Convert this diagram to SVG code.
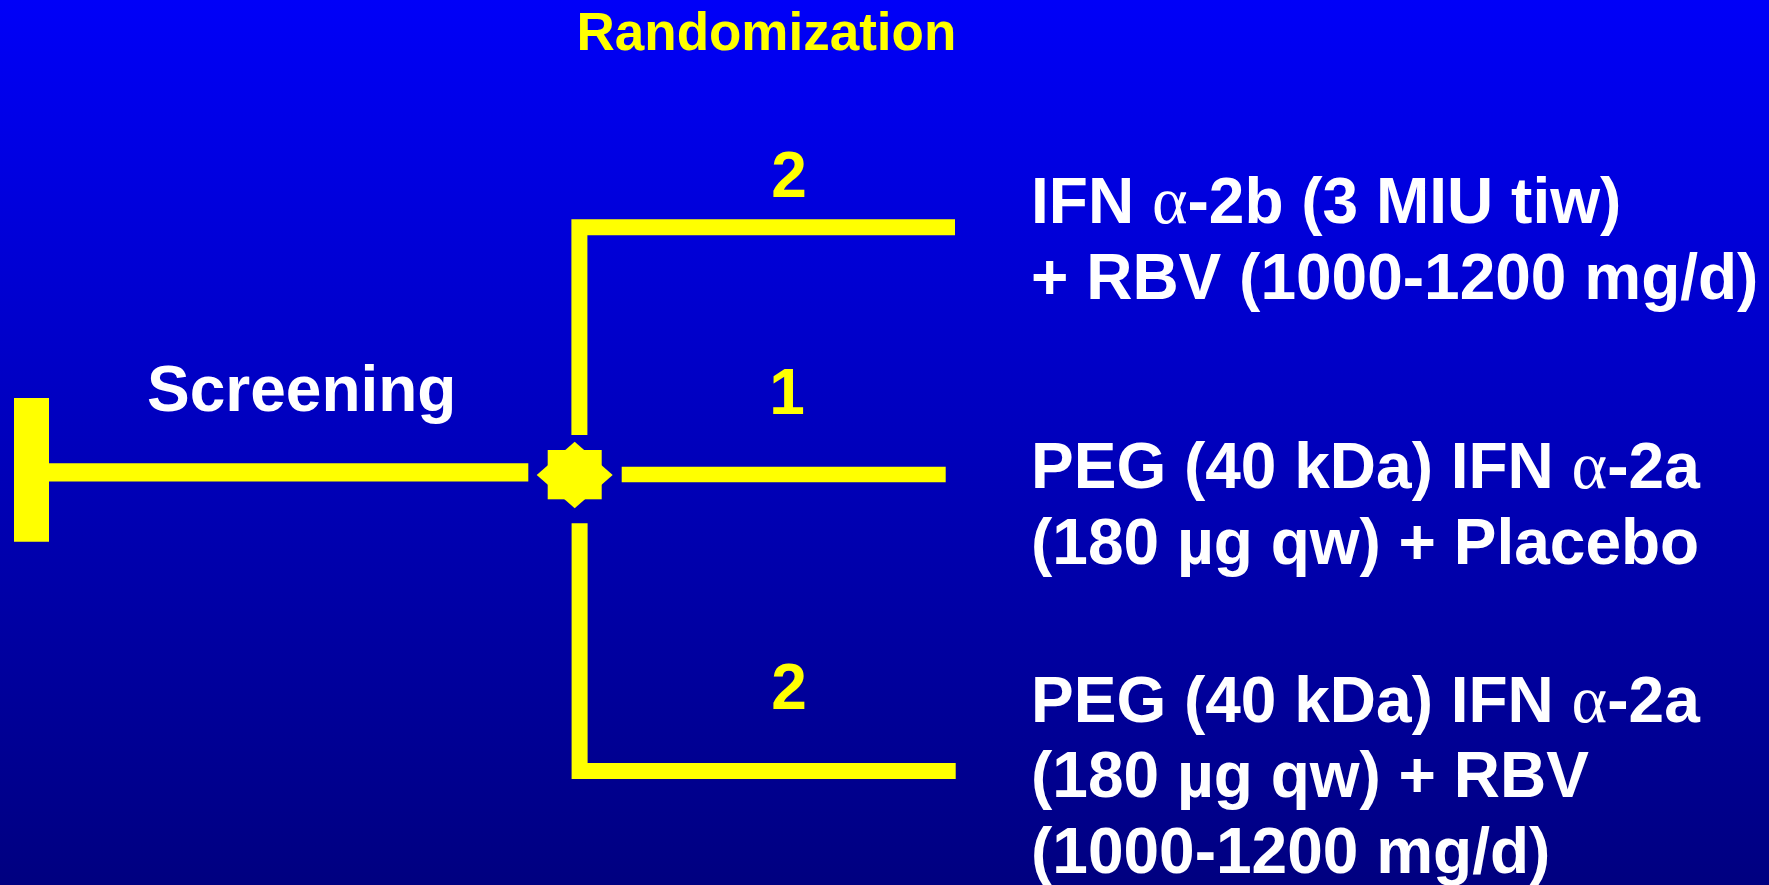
<svg xmlns="http://www.w3.org/2000/svg" width="1769" height="885" viewBox="0 0 1769 885">
  <defs>
    <linearGradient id="bg" x1="0" y1="0" x2="0" y2="1">
      <stop offset="0" stop-color="#0000F8"/>
      <stop offset="1" stop-color="#000080"/>
    </linearGradient>
  </defs>
  <style>
    .w { fill: #FFFFFF; font-family: "Liberation Sans", Arial, sans-serif; font-weight: bold; font-size: 64px; }
    .y { fill: #FFFF00; font-family: "Liberation Sans", Arial, sans-serif; font-weight: bold; }
    .greek { font-family: "Liberation Serif", "Times New Roman", serif; font-weight: normal; font-size: 68px; }
    .conn { fill: none; stroke: #FFFF00; stroke-linecap: butt; stroke-linejoin: miter; }
    .shape { fill: #FFFF00; }
  </style>
  <rect x="0" y="0" width="1769" height="885" fill="url(#bg)"/>

  <g id="connectors">
    <path class="conn" d="M31.5,398 V541.7" stroke-width="35"/>
    <path class="conn" d="M49,472.4 H528.3" stroke-width="18.4"/>
    <path class="conn" d="M579.4,435 V227.2 H955" stroke-width="16"/>
    <path class="conn" d="M621.7,474.5 H945.7" stroke-width="15.6"/>
    <path class="conn" d="M579.6,523.3 V771 H955.7" stroke-width="16"/>
  </g>

  <g id="title-randomization">
    <text class="y" x="576.5" y="50" font-size="53">Randomization</text>
  </g>

  <g id="label-screening">
    <text class="w" x="147" y="411">Screening</text>
  </g>

  <g id="randomization-node">
    <rect class="shape" x="547.7" y="450" width="54" height="49.3"/>
    <polygon class="shape" points="574.7,441.7 612.7,475 574.7,508.3 536.7,475"/>
  </g>

  <g id="ratio-top">
    <text class="y" x="789" y="197" font-size="64" text-anchor="middle">2</text>
  </g>
  <g id="ratio-middle">
    <text class="y" x="787" y="414" font-size="64" text-anchor="middle">1</text>
  </g>
  <g id="ratio-bottom">
    <text class="y" x="789" y="708.5" font-size="64" text-anchor="middle">2</text>
  </g>

  <g id="arm-1">
    <text class="w" x="1031" y="223">IFN <tspan class="greek">α</tspan>-2b (3 MIU tiw)</text>
    <text class="w" x="1031" y="299">+ RBV (1000-1200 mg/d)</text>
  </g>

  <g id="arm-2">
    <text class="w" x="1031" y="487.5">PEG (40 kDa) IFN <tspan class="greek">α</tspan>-2a</text>
    <text class="w" x="1031" y="564">(180 µg qw) + Placebo</text>
  </g>

  <g id="arm-3">
    <text class="w" x="1031" y="721.7">PEG (40 kDa) IFN <tspan class="greek">α</tspan>-2a</text>
    <text class="w" x="1031" y="797.3">(180 µg qw) + RBV</text>
    <text class="w" x="1031" y="873.3">(1000-1200 mg/d)</text>
  </g>
</svg>
